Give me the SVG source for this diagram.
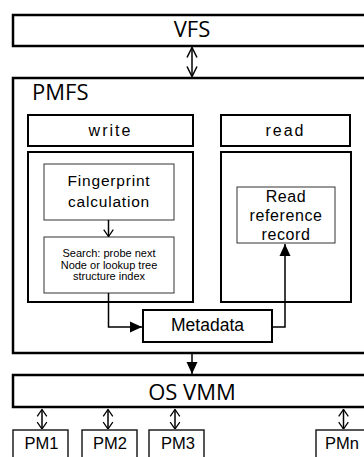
<svg xmlns="http://www.w3.org/2000/svg" width="364" height="457" viewBox="0 0 364 457">
<style>
.big{font-family:"Open Sans","Noto Sans",sans-serif;fill:#000}
.sm{font-family:"Liberation Sans",Arial,sans-serif;fill:#000}
.thick{fill:#fff;stroke:#000;stroke-width:2.5}
.mid{fill:#fff;stroke:#000;stroke-width:2}
.thin{fill:#fff;stroke:#333;stroke-width:1}
.pm{fill:#fff;stroke:#111;stroke-width:1.4}
.ln{fill:none;stroke:#000;stroke-width:1.5}
</style>
<defs>
<marker id="open" viewBox="0 0 12 12" refX="11" refY="6" markerWidth="12" markerHeight="12" markerUnits="userSpaceOnUse" orient="auto-start-reverse">
<path d="M1,1 L11,6 L1,11" fill="none" stroke="#000" stroke-width="1.5"/>
</marker>
<marker id="opens" viewBox="0 0 10 14" refX="9.5" refY="7" markerWidth="8" markerHeight="12" markerUnits="userSpaceOnUse" orient="auto-start-reverse">
<path d="M1,1 L9.5,7 L1,13" fill="none" stroke="#000" stroke-width="1.6"/>
</marker>
<marker id="fill" viewBox="0 0 12 12" refX="12" refY="6" markerWidth="12" markerHeight="12" markerUnits="userSpaceOnUse" orient="auto">
<path d="M0,0.5 L12,6 L0,11.5 Z" fill="#000"/>
</marker>
</defs>

<g id="VFS">
<rect class="thick" x="13" y="15" width="362" height="31"/>
<text class="big" x="192" y="37" font-size="22" text-anchor="middle">VFS</text>
</g>

<g id="PMFS">
<rect class="thick" x="13" y="78" width="362" height="275"/>
<text class="big" x="32" y="100" font-size="22">PMFS</text>
</g>

<g id="write">
<rect class="mid" x="28" y="115" width="165" height="31"/>
<text class="sm" x="110.5" y="136" font-size="16" letter-spacing="2" text-anchor="middle">write</text>
</g>

<g id="read">
<rect class="mid" x="221" y="115" width="129" height="31"/>
<text class="sm" x="285.5" y="136" font-size="16" letter-spacing="2" text-anchor="middle">read</text>
</g>

<g id="write-container">
<rect class="mid" x="28" y="152" width="165" height="150"/>
</g>

<g id="read-container">
<rect class="mid" x="221" y="152" width="130" height="150"/>
</g>

<g id="fingerprint">
<rect class="thin" x="44" y="164" width="130" height="56"/>
<text class="sm" font-size="15.5" letter-spacing="0.8" text-anchor="middle"><tspan x="109" y="186">Fingerprint</tspan><tspan x="109" y="207">calculation</tspan></text>
</g>

<g id="search">
<rect class="thin" x="44" y="237" width="130" height="56"/>
<text class="sm" font-size="11" text-anchor="middle"><tspan x="109" y="257">Search: probe next</tspan><tspan x="109" y="268.5">Node or lookup tree</tspan><tspan x="109" y="280">structure index</tspan></text>
</g>

<g id="read-ref">
<rect class="thin" x="237" y="187" width="98" height="56"/>
<text class="sm" font-size="16" letter-spacing="0.6" text-anchor="middle"><tspan x="286" y="201.5">Read</tspan><tspan x="286" y="220.5">reference</tspan><tspan x="286" y="240">record</tspan></text>
</g>

<g id="metadata">
<rect class="mid" x="143" y="310" width="129" height="32"/>
<text class="sm" x="207.5" y="331" font-size="17.5" text-anchor="middle">Metadata</text>
</g>

<g id="OSVMM">
<rect class="thick" x="13" y="375" width="362" height="32"/>
<text class="big" x="192" y="400" font-size="22" text-anchor="middle">OS VMM</text>
</g>

<g id="PM1">
<rect class="pm" x="13" y="430" width="55" height="40"/>
<text class="sm" x="41.5" y="449" font-size="16.5" text-anchor="middle">PM1</text>
</g>
<g id="PM2">
<rect class="pm" x="82" y="430" width="55" height="40"/>
<text class="sm" x="110" y="449" font-size="16.5" text-anchor="middle">PM2</text>
</g>
<g id="PM3">
<rect class="pm" x="149" y="430" width="55" height="40"/>
<text class="sm" x="178" y="449" font-size="16.5" text-anchor="middle">PM3</text>
</g>
<g id="PMn">
<rect class="pm" x="316" y="430" width="60" height="40"/>
<text class="sm" x="325" y="449" font-size="16.5">PMn</text>
</g>

<g id="connectors">
<line class="ln" x1="192" y1="47.5" x2="192" y2="76.5" marker-start="url(#open)" marker-end="url(#open)"/>
<line class="ln" x1="108.5" y1="220" x2="108.5" y2="236.5" marker-end="url(#opens)"/>
<polyline class="ln" points="108.5,293 108.5,327 142,327" marker-end="url(#fill)"/>
<polyline class="ln" points="272,327 285,327 285,244" marker-end="url(#fill)"/>
<line class="ln" x1="192" y1="354" x2="192" y2="374" marker-end="url(#fill)"/>
<line class="ln" x1="42" y1="409.5" x2="42" y2="429" marker-start="url(#opens)" marker-end="url(#opens)"/>
<line class="ln" x1="108" y1="409.5" x2="108" y2="429" marker-start="url(#opens)" marker-end="url(#opens)"/>
<line class="ln" x1="175" y1="409.5" x2="175" y2="429" marker-start="url(#opens)" marker-end="url(#opens)"/>
<line class="ln" x1="343.5" y1="409.5" x2="343.5" y2="429" marker-start="url(#opens)" marker-end="url(#opens)"/>
</g>
</svg>
